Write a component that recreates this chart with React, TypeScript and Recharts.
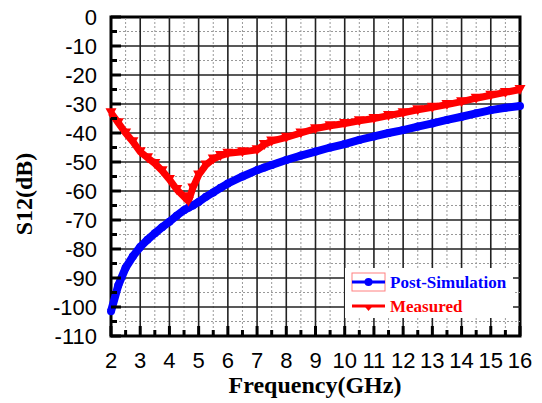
import React from 'react';
import { LineChart, Line, XAxis, YAxis, ReferenceLine, ReferenceArea } from 'recharts';

const freq = [2, 2.25, 2.5, 2.75, 3, 3.25, 3.5, 3.75, 4, 4.25, 4.5, 4.65, 4.8, 5, 5.25, 5.5, 5.75, 6, 6.5, 7, 7.25, 7.5, 8, 8.5, 9, 9.5, 10, 10.5, 11, 11.5, 12, 12.5, 13, 13.5, 14, 14.5, 15, 15.5, 16];
const postSim = [-101.5, -92.5, -86.5, -82.5, -79.3, -76.8, -74.6, -72.5, -70.6, -68.5, -66.6, -65.8, -65, -63.8, -62, -60.5, -58.9, -57.4, -55, -52.8, -51.9, -51, -49.3, -47.8, -46.4, -45, -43.8, -42.4, -41.2, -40, -39, -37.8, -36.7, -35.5, -34.4, -33.2, -32.1, -31.3, -30.7];
const measured = [-33, -36.5, -40, -43, -46.5, -48.5, -50.5, -53, -56, -59.5, -62, -63.5, -59, -54.5, -51, -49, -47.8, -47, -46.5, -45.8, -44, -42.8, -41.5, -40, -38.5, -37.5, -36.7, -35.8, -35, -34, -33, -32, -31.1, -30.2, -29.2, -28, -27, -26, -25];

const xTicks = [2, 2.5, 3, 3.5, 4, 4.5, 5, 5.5, 6, 6.5, 7, 7.5, 8, 8.5, 9, 9.5, 10, 10.5, 11, 11.5, 12, 12.5, 13, 13.5, 14, 14.5, 15, 15.5, 16];
const yTicks = [0, -5, -10, -15, -20, -25, -30, -35, -40, -45, -50, -55, -60, -65, -70, -75, -80, -85, -90, -95, -100, -105, -110];
const xMajorGrid = [3, 4, 5, 6, 7, 8, 9, 10, 11, 12, 13, 14, 15];
const xMinorGrid = [2.5, 3.5, 4.5, 5.5, 6.5, 7.5, 8.5, 9.5, 10.5, 11.5, 12.5, 13.5, 14.5, 15.5];
const yMajorGrid = [-10, -20, -30, -40, -50, -60, -70, -80, -90, -100];
const yMinorGrid = [-5, -15, -25, -35, -45, -55, -65, -75, -85, -95, -105];

const seriesNames = ['Post-Simulation', 'Measured'];

const data = freq.map((f, i) => ({ f, sim: postSim[i], meas: measured[i] }));

const SANS = '"Liberation Sans", Arial, sans-serif';
const SERIF = '"Liberation Serif", "Times New Roman", serif';

const XTick = (props: any) => {
  const { x, y, payload } = props;
  const v = payload.value;
  const major = Number.isInteger(v);
  return (
    <g>
      <line x1={x} x2={x} y1={y} y2={y - (major ? 10 : 6)} stroke="#000" strokeWidth={3} />
      {major && (
        <text x={x} y={y + 24} dy="0.35em" textAnchor="middle" fontSize={22} fontFamily={SANS} fill="#000">
          {v}
        </text>
      )}
    </g>
  );
};

const YTick = (props: any) => {
  const { x, y, payload } = props;
  const v = payload.value;
  const major = v % 10 === 0;
  return (
    <g>
      <line x1={x} x2={x + (major ? 10 : 6)} y1={y} y2={y} stroke="#000" strokeWidth={3} />
      {major && (
        <text x={x - 14} y={y} dy="0.35em" textAnchor="end" fontSize={22} fontFamily={SANS} fill="#000">
          {v}
        </text>
      )}
    </g>
  );
};

const TriDot = (props: any) => {
  const { cx, cy, index } = props;
  if (cx == null || cy == null) return <g key={index} />;
  return <path key={index} d={`M${cx - 5.5},${cy - 4.5} L${cx + 5.5},${cy - 4.5} L${cx},${cy + 5.5} Z`} fill="#ff0000" />;
};

const LegendBox = () => (
  <svg width={168} height={50} style={{ position: 'absolute', left: 345, top: 268, display: 'block' }}>
    <rect x={0} y={0} width={168} height={50} fill="#fff" />
    <rect x={7} y={5} width={33} height={18} fill="none" stroke="#ff8080" strokeWidth={1} />
    <line x1={7} x2={40} y1={14} y2={14} stroke="#0000ff" strokeWidth={3} />
    <circle cx={23.5} cy={14} r={4} fill="#0000ff" />
    <text x={45} y={14} dy="0.35em" fontSize={17} fontWeight="bold" fontFamily={SERIF} fill="#0000ff">
      {seriesNames[0]}
    </text>
    <line x1={7} x2={40} y1={38} y2={38} stroke="#ff0000" strokeWidth={3} />
    <path d="M18.5,37 L28.5,37 L23.5,43 Z" fill="#ff0000" />
    <text x={45} y={38} dy="0.35em" fontSize={17} fontWeight="bold" fontFamily={SERIF} fill="#ff0000">
      {seriesNames[1]}
    </text>
  </svg>
);

export default function App() {
  return (
    <div style={{ position: 'absolute', left: 0, top: 0, width: 542, height: 403, background: '#fff' }}>
      <LineChart width={542} height={403} data={data} margin={{ top: 17, right: 22, bottom: 0, left: 0 }}>
        <XAxis
          dataKey="f"
          type="number"
          domain={[2, 16]}
          ticks={xTicks}
          interval={0}
          height={67}
          axisLine={false}
          tickLine={false}
          tickSize={0}
          tickMargin={0}
          tick={<XTick />}
        />
        <YAxis
          type="number"
          domain={[-110, 0]}
          ticks={yTicks}
          interval={0}
          width={111}
          axisLine={false}
          tickLine={false}
          tickSize={0}
          tickMargin={0}
          tick={<YTick />}
        />
        {xMinorGrid.map((v) => (
          <ReferenceLine key={'xm' + v} x={v} stroke="#999" strokeWidth={1} strokeDasharray="2 2" />
        ))}
        {yMinorGrid.map((v) => (
          <ReferenceLine key={'ym' + v} y={v} stroke="#999" strokeWidth={1} strokeDasharray="2 2" />
        ))}
        {xMajorGrid.map((v) => (
          <ReferenceLine key={'xM' + v} x={v} stroke="#222" strokeWidth={1.6} />
        ))}
        {yMajorGrid.map((v) => (
          <ReferenceLine key={'yM' + v} y={v} stroke="#222" strokeWidth={1.6} />
        ))}
        <Line
          dataKey="sim"
          name={seriesNames[0]}
          stroke="#0000ff"
          strokeWidth={8}
          dot={{ r: 4, fill: '#0000ff', stroke: 'none' }}
          isAnimationActive={false}
        />
        <Line
          dataKey="meas"
          name={seriesNames[1]}
          stroke="#ff0000"
          strokeWidth={7}
          dot={<TriDot />}
          isAnimationActive={false}
        />
        <ReferenceArea x1={2} x2={16} y1={-110} y2={0} fill="none" stroke="#000" strokeWidth={3} ifOverflow="visible" />
        <text x={315} y={385} dy="0.35em" textAnchor="middle" fontSize={24} fontWeight="bold" fontFamily={SERIF} fill="#000">
          Frequency(GHz)
        </text>
        <text
          x={24}
          y={194}
          dy="0.35em"
          textAnchor="middle"
          fontSize={24}
          fontWeight="bold"
          fontFamily={SERIF}
          fill="#000"
          transform="rotate(-90 24 194)"
        >
          S12(dB)
        </text>
      </LineChart>
      <LegendBox />
    </div>
  );
}
